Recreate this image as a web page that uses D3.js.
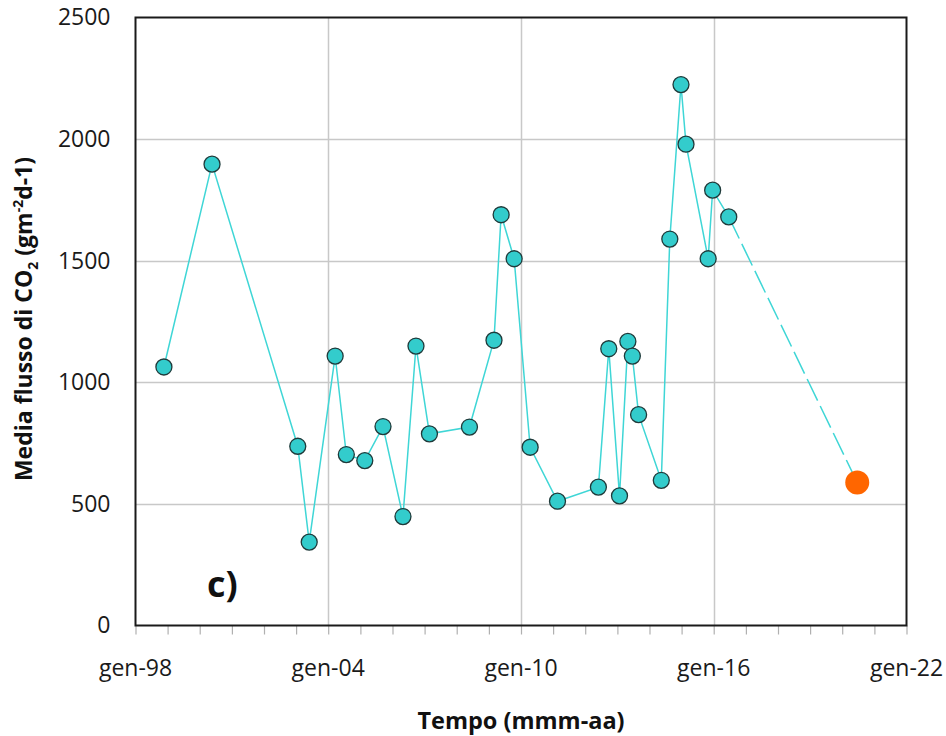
<!DOCTYPE html>
<html>
<head>
<meta charset="utf-8">
<script src="https://cdn.jsdelivr.net/npm/d3@7"></script>
<style>
  html, body { margin: 0; padding: 0; background: #fff; }
  svg { display: block; font-family: "Open Sans", "DejaVu Sans", sans-serif; }
</style>
</head>
<body>
<svg id="chart" width="946" height="736"></svg>
<script>
// ---- data ----
const dates = ["1998-11-20","2000-05-20","2003-01-20","2003-05-30","2004-03-20","2004-07-25",
  "2005-02-20","2005-09-15","2006-04-30","2006-09-25","2007-02-25","2008-05-25",
  "2009-02-28","2009-05-20","2009-10-15","2010-04-15","2011-02-20","2012-05-30",
  "2012-09-25","2013-01-25","2013-04-30","2013-06-20","2013-08-30","2014-05-15",
  "2014-08-20","2014-12-25","2015-02-20","2015-10-30","2015-12-20","2016-06-20"];
const fluxValues = [1063,1897,737,343,1108,703,678,818,448,1149,788,816,1173,1689,1508,
  733,511,569,1138,533,1168,1108,867,597,1589,2224,1979,1508,1790,1680];
const extraDate = ["2020-06-20"];
const extraValue = [588];
const yTicks = [0,500,1000,1500,2000,2500];
const xTickLabels = ["gen-98","gen-04","gen-10","gen-16","gen-22"];
const xTickDates = ["1998-01-01","2004-01-01","2010-01-01","2016-01-01","2022-01-01"];
const yTitle = "Media flusso di CO";
const xTitle = "Tempo (mmm-aa)";
const panelLabel = "c)";

// ---- layout ----
const svg = d3.select("#chart");
const m = {left: 135.5, right: 906.5, top: 17.5, bottom: 625.5};
const parse = d3.timeParse("%Y-%m-%d");
const x = d3.scaleTime().domain([parse(xTickDates[0]), parse(xTickDates[4])]).range([m.left, m.right]);
const y = d3.scaleLinear().domain([0, 2500]).range([m.bottom, m.top]);

const pts = dates.map((d, i) => ({date: parse(d), v: fluxValues[i]}));
const extra = {date: parse(extraDate[0]), v: extraValue[0]};

// grid
const g = svg.append("g");
g.selectAll(".hg").data(yTicks.slice(1, -1)).enter().append("line")
  .attr("x1", m.left).attr("x2", m.right)
  .attr("y1", d => Math.round(y(d)) + 0.5).attr("y2", d => Math.round(y(d)) + 0.5)
  .attr("stroke", "#c8c8c8").attr("stroke-width", 1.5);
g.selectAll(".vg").data(xTickDates.slice(1, -1)).enter().append("line")
  .attr("x1", d => Math.round(x(parse(d))) + 0.5).attr("x2", d => Math.round(x(parse(d))) + 0.5)
  .attr("y1", m.top).attr("y2", m.bottom)
  .attr("stroke", "#c8c8c8").attr("stroke-width", 1.5);

// y axis
const yAxis = d3.axisLeft(y).tickValues(yTicks).tickSize(0).tickPadding(25).tickFormat(d3.format("d"));
const ya = svg.append("g").attr("transform", `translate(${m.left},0)`).call(yAxis);
ya.select(".domain").remove();
ya.selectAll("text").attr("font-size", 23).attr("fill", "#1a1a1a")
  .attr("font-family", "'Open Sans', sans-serif");

// x axis with yearly minor ticks
const yearTicks = d3.timeYear.range(parse("1998-01-01"), parse("2022-01-02"));
const xa = svg.append("g").attr("transform", `translate(0,${m.bottom})`)
  .call(d3.axisBottom(x).tickValues(yearTicks).tickSize(9).tickFormat(""));
xa.select(".domain").remove();
xa.selectAll(".tick line").attr("stroke", "#b0b0b0").attr("stroke-width", 1.2);
svg.append("g").selectAll("text").data(xTickDates).enter().append("text")
  .attr("x", d => x(parse(d))).attr("y", 676)
  .attr("text-anchor", "middle").attr("font-size", 23).attr("fill", "#1a1a1a")
  .text((d, i) => xTickLabels[i]);

// plot border
svg.append("rect").attr("x", m.left).attr("y", m.top)
  .attr("width", m.right - m.left).attr("height", m.bottom - m.top)
  .attr("fill", "none").attr("stroke", "#1a1a1a").attr("stroke-width", 2);

// lines
const line = d3.line().x(d => x(d.date)).y(d => y(d.v));
svg.append("path").datum(pts).attr("d", line)
  .attr("fill", "none").attr("stroke", "#3fd6d6").attr("stroke-width", 1.5);
svg.append("path").datum([pts[pts.length - 1], extra]).attr("d", line)
  .attr("fill", "none").attr("stroke", "#3fd6d6").attr("stroke-width", 1.5)
  .attr("stroke-dasharray", "24,6");

// markers
svg.append("g").selectAll("circle").data(pts).enter().append("circle")
  .attr("cx", d => x(d.date)).attr("cy", d => y(d.v)).attr("r", 8)
  .attr("fill", "#33cccc").attr("stroke", "#1f3a3a").attr("stroke-width", 1.3);
svg.append("circle").attr("cx", x(extra.date)).attr("cy", y(extra.v)).attr("r", 12)
  .attr("fill", "#ff6600");

// titles
const yt = svg.append("text").attr("transform", "translate(32,319) rotate(-90)")
  .attr("text-anchor", "middle").attr("font-size", 23).attr("font-weight", "bold").attr("fill", "#111");
yt.append("tspan").text(yTitle);
yt.append("tspan").text("2").attr("font-size", 14).attr("dy", 6);
yt.append("tspan").text(" (gm").attr("dy", -6);
yt.append("tspan").text("-2").attr("font-size", 14).attr("dy", -9);
yt.append("tspan").text("d-1)").attr("dy", 9);

svg.append("text").attr("x", 521).attr("y", 729).attr("text-anchor", "middle")
  .attr("font-size", 23.5).attr("font-weight", "bold").attr("fill", "#111").text(xTitle);

svg.append("text").attr("x", 207).attr("y", 597)
  .attr("font-size", 36).attr("font-weight", "bold").attr("fill", "#111").text(panelLabel);
</script>
</body>
</html>
